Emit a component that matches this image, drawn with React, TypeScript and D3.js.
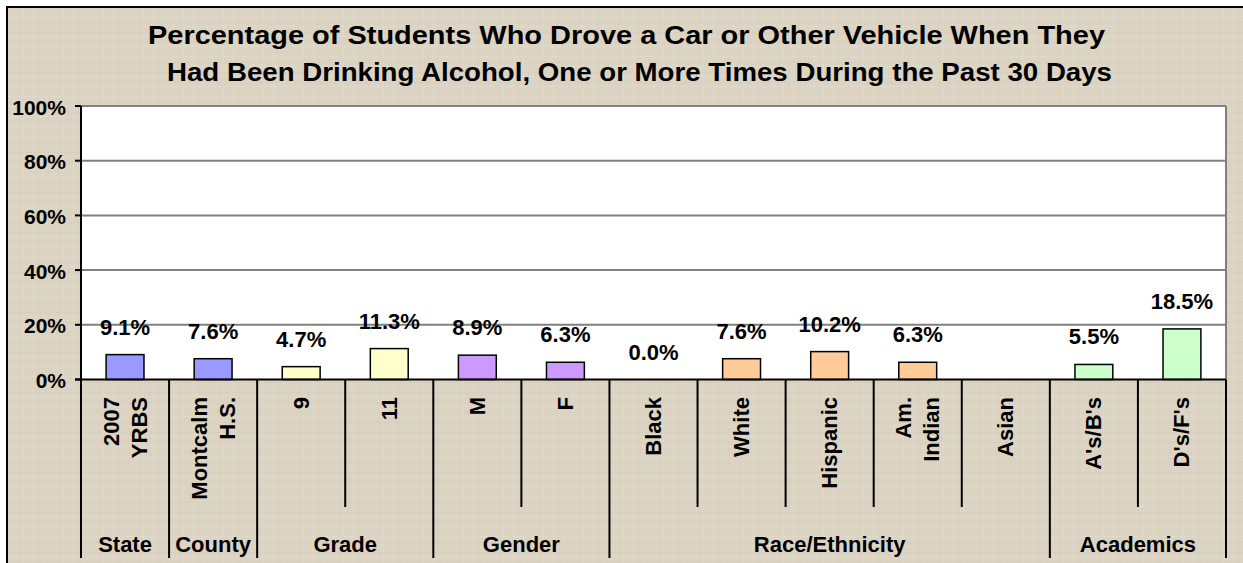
import React from "react";
import * as d3 from "d3";

const titleLines = [
  "Percentage of Students Who Drove a Car or Other Vehicle When They",
  "Had Been Drinking Alcohol, One or More Times During the Past 30 Days",
];
const categories = [
  ["2007", "YRBS"],
  ["Montcalm", "H.S."],
  ["9"],
  ["11"],
  ["M"],
  ["F"],
  ["Black"],
  ["White"],
  ["Hispanic"],
  ["Am.", "Indian"],
  ["Asian"],
  ["A's/B's"],
  ["D's/F's"],
];
const values: (number | null)[] = [9.1, 7.6, 4.7, 11.3, 8.9, 6.3, 0.0, 7.6, 10.2, 6.3, null, 5.5, 18.5];
const groups = ["State", "County", "Grade", "Gender", "Race/Ethnicity", "Academics"];
const groupSizes = [1, 1, 2, 2, 5, 2];
const groupColors = ["#9999FF", "#9999FF", "#FFFFCC", "#CC99FF", "#FFCC99", "#CCFFCC"];
const yTicks = [0, 20, 40, 60, 80, 100];

const W = 1243;
const H = 563;
const plotL = 81;
const plotR = 1226;
const plotT = 106;
const plotB = 379.5;
const FONT = "Arial, 'Liberation Sans', sans-serif";

export default function App() {
  const x = d3
    .scaleBand<number>()
    .domain(categories.map((_, i) => i))
    .range([plotL, plotR])
    .padding(0);
  const y = d3.scaleLinear().domain([0, 100]).range([plotB, plotT]);
  const bw = x.bandwidth();
  const barW = bw * 0.43;

  const catGroup: number[] = [];
  groupSizes.forEach((n, g) => {
    for (let k = 0; k < n; k++) catGroup.push(g);
  });
  const groupStarts: number[] = [];
  let acc = 0;
  groupSizes.forEach((n) => {
    groupStarts.push(acc);
    acc += n;
  });

  return (
    <svg
      width={W}
      height={H}
      style={{ position: "absolute", left: 0, top: 0, display: "block" }}
      fontFamily={FONT}
    >
      <defs>
        <pattern id="tex" width="10" height="10" patternUnits="userSpaceOnUse">
          <rect width="10" height="10" fill="#DCD4C3" />
          <rect x="0" y="2" width="10" height="1" fill="#D5CCBA" opacity="0.6" />
          <rect x="0" y="6" width="10" height="1" fill="#E3DCCD" opacity="0.6" />
          <rect x="3" y="0" width="1" height="10" fill="#E2DBCC" opacity="0.4" />
          <rect x="8" y="0" width="1" height="10" fill="#D6CDBC" opacity="0.4" />
        </pattern>
      </defs>
      <rect x={0} y={0} width={W} height={H} fill="#FFFFFF" />
      <rect x={7} y={7} width={W + 50} height={H + 50} fill="url(#tex)" stroke="#000" strokeWidth={2} />

      {titleLines.map((t, i) => (
        <text
          key={i}
          x={i === 0 ? 148 : 167}
          y={i === 0 ? 44 : 81}
          fontSize={26}
          fontWeight="bold"
          textLength={i === 0 ? 957 : 945}
          lengthAdjust="spacingAndGlyphs"
        >
          {t}
        </text>
      ))}

      <rect x={plotL} y={plotT} width={plotR - plotL} height={plotB - plotT} fill="#FFFFFF" />
      {yTicks.filter((t) => t > 0).map((t) => (
        <line key={t} x1={plotL} x2={plotR} y1={y(t)} y2={y(t)} stroke="#808080" strokeWidth={2} />
      ))}
      <line x1={plotR} x2={plotR} y1={plotT} y2={plotB} stroke="#808080" strokeWidth={2} />

      <line x1={plotL} x2={plotL} y1={plotT} y2={558} stroke="#000" strokeWidth={2} />
      {yTicks.map((t) => (
        <g key={t}>
          <line x1={plotL - 6} x2={plotL} y1={y(t)} y2={y(t)} stroke="#000" strokeWidth={2} />
          <text
            x={66}
            y={y(t) + 1}
            textAnchor="end"
            dominantBaseline="central"
            fontSize={21}
            fontWeight="bold"
          >
            {t}%
          </text>
        </g>
      ))}

      {values.map((v, i) =>
        v === null ? null : (
          <g key={i}>
            <rect
              x={x(i)! + bw / 2 - barW / 2}
              y={y(v)}
              width={barW}
              height={Math.max(0, y(0) - y(v))}
              fill={groupColors[catGroup[i]]}
              stroke="#000"
              strokeWidth={1.5}
            />
            <text
              x={x(i)! + bw / 2}
              y={y(v) - 20}
              textAnchor="middle"
              fontSize={22}
              fontWeight="bold"
            >
              {v.toFixed(1)}%
            </text>
          </g>
        )
      )}

      <line x1={plotL - 6} x2={plotR} y1={plotB} y2={plotB} stroke="#000" strokeWidth={2} />
      {categories.map((_, i) => {
        if (i === 0) return null;
        const isGroupStart = groupStarts.includes(i);
        return (
          <line
            key={i}
            x1={x(i)!}
            x2={x(i)!}
            y1={plotB}
            y2={isGroupStart ? 558 : 507}
            stroke="#000"
            strokeWidth={2}
          />
        );
      })}
      <line x1={plotR} x2={plotR} y1={plotB} y2={558} stroke="#000" strokeWidth={2} />

      {categories.map((lines, i) => {
        const cx = x(i)! + bw / 2;
        const n = lines.length;
        return lines.map((ln, k) => {
          const lx = cx + (k - (n - 1) / 2) * 28;
          return (
            <text
              key={i + "-" + k}
              transform={`translate(${lx},397) rotate(-90)`}
              textAnchor="end"
              dominantBaseline="central"
              fontSize={22}
              fontWeight="bold"
            >
              {ln}
            </text>
          );
        });
      })}

      {groups.map((g, gi) => {
        const s = groupStarts[gi];
        const e = s + groupSizes[gi];
        const cx = (x(s)! + (x(e - 1)! + bw)) / 2;
        return (
          <text key={g} x={cx} y={552} textAnchor="middle" fontSize={22} fontWeight="bold">
            {g}
          </text>
        );
      })}
    </svg>
  );
}
